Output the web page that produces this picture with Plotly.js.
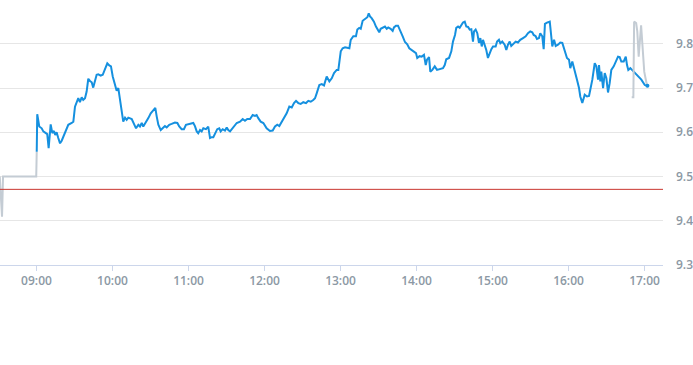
<!DOCTYPE html>
<html>
<head>
<meta charset="utf-8">
<script src="https://cdn.plot.ly/plotly-3.0.1.min.js"></script>
<style>html,body{margin:0;padding:0;background:#fff;}#chart{width:693px;height:365px;}</style>
</head>
<body>
<div id="chart"></div>
<script>
// minutes after 09:00 and prices
const preMin = [-29, -27.2, -26.4, -0.2, 0.2];
const preVal = [9.50, 9.409, 9.50, 9.50, 9.556];

const mainMin = [0.2,0.6,2.2,4.1,5.4,7.5,8.5,9.6,11.2,12.5,13.8,14.8,15.9,17.2,18.6,19.9,22.5,25.1,27.8,29.1,
30.4,31.7,33.0,34.3,35.7,36.9,38.3,39.6,40.9,42.2,43.6,44.8,46.2,47.5,48.8,50.7,52.3,53.3,54.9,55.9,
57.5,58.8,60.2,62.0,63.3,64.6,65.9,67.3,68.5,69.9,71.2,72.5,73.8,75.2,78.6,80.4,81.7,83.1,84.3,86.4,
88.3,90.2,92.2,93.8,94.9,96.2,98.1,99.6,101.4,102.8,104.8,106.7,109.3,111.2,112.7,114.6,116.4,118.0,121.2,123.8,
125.1,126.5,127.7,129.1,130.4,131.7,133.8,135.6,137.0,138.3,139.6,140.9,142.7,144.3,145.4,147.0,148.8,150.2,151.4,152.8,
154.1,155.9,158.1,160.7,162.8,164.6,166.4,168.6,170.7,172.5,173.8,175.1,177.0,179.1,181.7,184.3,186.5,188.3,190.1,191.7,
193.6,195.4,197.5,199.6,201.5,203.3,204.9,206.7,208.6,210.6,212.8,214.6,216.5,218.5,219.9,221.2,223.3,225.2,227.0,229.1,
231.2,233.1,234.9,237.0,238.3,240.2,241.7,243.6,245.4,247.0,248.1,250.1,252.2,253.3,254.8,256.0,257.5,258.6,260.1,261.2,
262.3,263.3,264.6,266.4,268.0,269.1,270.6,271.7,273.3,275.1,276.5,277.7,279.6,281.2,282.2,283.8,285.4,287.0,289.1,290.9,
292.7,294.3,297.0,299.6,300.6,302.4,304.1,305.9,307.3,308.3,309.9,310.9,312.5,314.4,316.2,318.3,320.9,322.3,323.5,325.7,
327.5,328.8,330.4,331.4,332.8,334.1,335.4,336.7,338.1,339.3,340.7,342.0,343.3,344.6,345.4,346.7,348.0,349.3,350.4,351.5,
352.5,353.8,355.1,356.4,357.8,359.1,360.4,362.5,363.6,365.1,366.2,367.7,369.6,370.9,372.2,373.6,374.8,376.7,378.3,380.1,
381.9,384.1,386.2,388.0,389.8,391.4,392.5,394.1,395.1,396.7,397.7,399.3,400.4,401.4,403.0,405.2,406.4,407.2,408.6,409.9,
411.7,413.5,415.1,417.0,418.8,420.4,421.4,423.0,424.9,426.7,428.3,429.3,430.9,432.8,434.6,436.2,437.2,438.8,440.7,442.0,
443.3,444.1,445.1,445.9,447.3,448.6,449.9,451.2,452.5,453.8,455.7,457.3,459.1,460.4,461.7,463.6,465.2,466.2,467.2,468.8,
470.4,472.3,474.9,477.5,480.2,482.3];
const mainVal = [9.556,9.641,9.613,9.609,9.602,9.598,9.596,9.564,9.618,9.598,9.603,9.594,9.600,9.587,9.575,9.581,9.598,9.617,9.621,9.624,
9.658,9.666,9.677,9.668,9.679,9.673,9.677,9.692,9.721,9.716,9.713,9.701,9.719,9.730,9.731,9.728,9.730,9.737,9.749,9.756,
9.751,9.749,9.726,9.707,9.694,9.700,9.677,9.651,9.624,9.633,9.628,9.633,9.632,9.630,9.609,9.617,9.613,9.621,9.613,9.622,
9.632,9.643,9.651,9.655,9.636,9.617,9.605,9.609,9.614,9.611,9.617,9.619,9.622,9.621,9.613,9.607,9.607,9.617,9.619,9.621,
9.614,9.602,9.598,9.605,9.602,9.609,9.607,9.613,9.587,9.589,9.589,9.598,9.607,9.609,9.602,9.607,9.604,9.611,9.605,9.602,
9.607,9.614,9.621,9.624,9.630,9.626,9.630,9.630,9.639,9.637,9.639,9.632,9.624,9.621,9.609,9.603,9.604,9.613,9.617,9.614,
9.624,9.630,9.643,9.658,9.656,9.666,9.671,9.666,9.664,9.668,9.666,9.671,9.669,9.673,9.677,9.688,9.707,9.709,9.706,9.726,
9.715,9.722,9.734,9.741,9.741,9.783,9.790,9.792,9.790,9.790,9.809,9.817,9.817,9.832,9.836,9.834,9.852,9.854,9.858,9.860,
9.869,9.862,9.858,9.850,9.839,9.834,9.826,9.834,9.837,9.839,9.834,9.837,9.834,9.829,9.837,9.841,9.841,9.832,9.817,9.804,
9.799,9.790,9.784,9.779,9.768,9.772,9.771,9.775,9.752,9.764,9.770,9.737,9.741,9.749,9.741,9.743,9.745,9.752,9.765,9.768,
9.783,9.805,9.820,9.836,9.839,9.836,9.843,9.848,9.850,9.839,9.838,9.832,9.833,9.805,9.828,9.832,9.824,9.802,9.813,9.794,
9.809,9.798,9.786,9.768,9.779,9.788,9.794,9.794,9.805,9.809,9.801,9.805,9.798,9.786,9.798,9.805,9.795,9.801,9.805,9.803,
9.809,9.813,9.817,9.824,9.828,9.826,9.820,9.817,9.811,9.813,9.824,9.817,9.788,9.845,9.848,9.850,9.809,9.794,9.809,9.795,
9.798,9.803,9.802,9.783,9.768,9.764,9.745,9.760,9.741,9.719,9.700,9.681,9.666,9.685,9.681,9.682,9.696,9.719,9.756,9.749,
9.719,9.752,9.715,9.737,9.700,9.734,9.722,9.690,9.711,9.741,9.749,9.760,9.771,9.770,9.760,9.760,9.771,9.752,9.741,9.745,
9.740,9.734,9.726,9.719,9.707,9.705];

const postMin = [469.9, 471.2, 471.8, 473.4, 474.3, 475.4, 477.3, 478.6, 479.8, 480.8, 481.9];
const postVal = [9.679, 9.679, 9.850, 9.847, 9.828, 9.771, 9.842, 9.775, 9.737, 9.722, 9.707];

const prevClose = 9.471;
const xStartMin = -28.8, xEndMin = 494.6;
const yTicks = [9.3, 9.4, 9.5, 9.6, 9.7, 9.8];

function ts(m) {
  let s = Math.round(9 * 3600 + m * 60);
  const h = Math.floor(s / 3600); s -= h * 3600;
  const mi = Math.floor(s / 60); const se = s - mi * 60;
  const p = n => String(n).padStart(2, '0');
  return '2024-01-02 ' + p(h) + ':' + p(mi) + ':' + p(se);
}

const grey = '#c4ccd4', blue = '#1590df';
const traces = [
  {x: preMin.map(ts), y: preVal, mode: 'lines', line: {color: grey, width: 2}, hoverinfo: 'skip'},
  {x: mainMin.map(ts), y: mainVal, mode: 'lines', line: {color: blue, width: 2}, hoverinfo: 'skip'},
  {x: postMin.map(ts), y: postVal, mode: 'lines', line: {color: grey, width: 2}, hoverinfo: 'skip'},
  {x: [ts(mainMin[mainMin.length-1])], y: [mainVal[mainVal.length-1]], mode: 'markers',
   marker: {color: blue, size: 4}, hoverinfo: 'skip'}
];

const layout = {
  width: 693, height: 365,
  margin: {l: 0, r: 30, t: 0, b: 100},
  paper_bgcolor: '#fff', plot_bgcolor: '#fff',
  showlegend: false,
  font: {family: 'Open Sans, sans-serif', size: 12, color: '#8c98a4'},
  xaxis: {
    type: 'date', range: [ts(xStartMin), ts(xEndMin)],
    dtick: 3600000, tick0: '2024-01-02 09:00:00', tickformat: '%H:%M',
    showgrid: false, zeroline: false,
    showline: true, linecolor: '#ccd6eb', linewidth: 1,
    ticks: 'outside', ticklen: 5, tickcolor: '#ccd6eb',
    tickfont: {family: 'Open Sans, sans-serif', size: 12, color: '#8c98a4', weight: 600}
  },
  yaxis: {
    side: 'right', range: [9.3, 9.899],
    tickvals: yTicks, tickformat: '.1f',
    showgrid: true, gridcolor: '#e6e6e6', gridwidth: 1,
    zeroline: false, showline: false, ticks: '',
    ticklabelstandoff: 12,
    tickfont: {family: 'Open Sans, sans-serif', size: 12, color: '#8c98a4', weight: 600}
  },
  shapes: [{type: 'line', xref: 'paper', x0: 0, x1: 1, yref: 'y', y0: prevClose, y1: prevClose,
            line: {color: '#c9362f', width: 1}}]
};

Plotly.newPlot('chart', traces, layout, {displayModeBar: false, staticPlot: true});
</script>
</body>
</html>
